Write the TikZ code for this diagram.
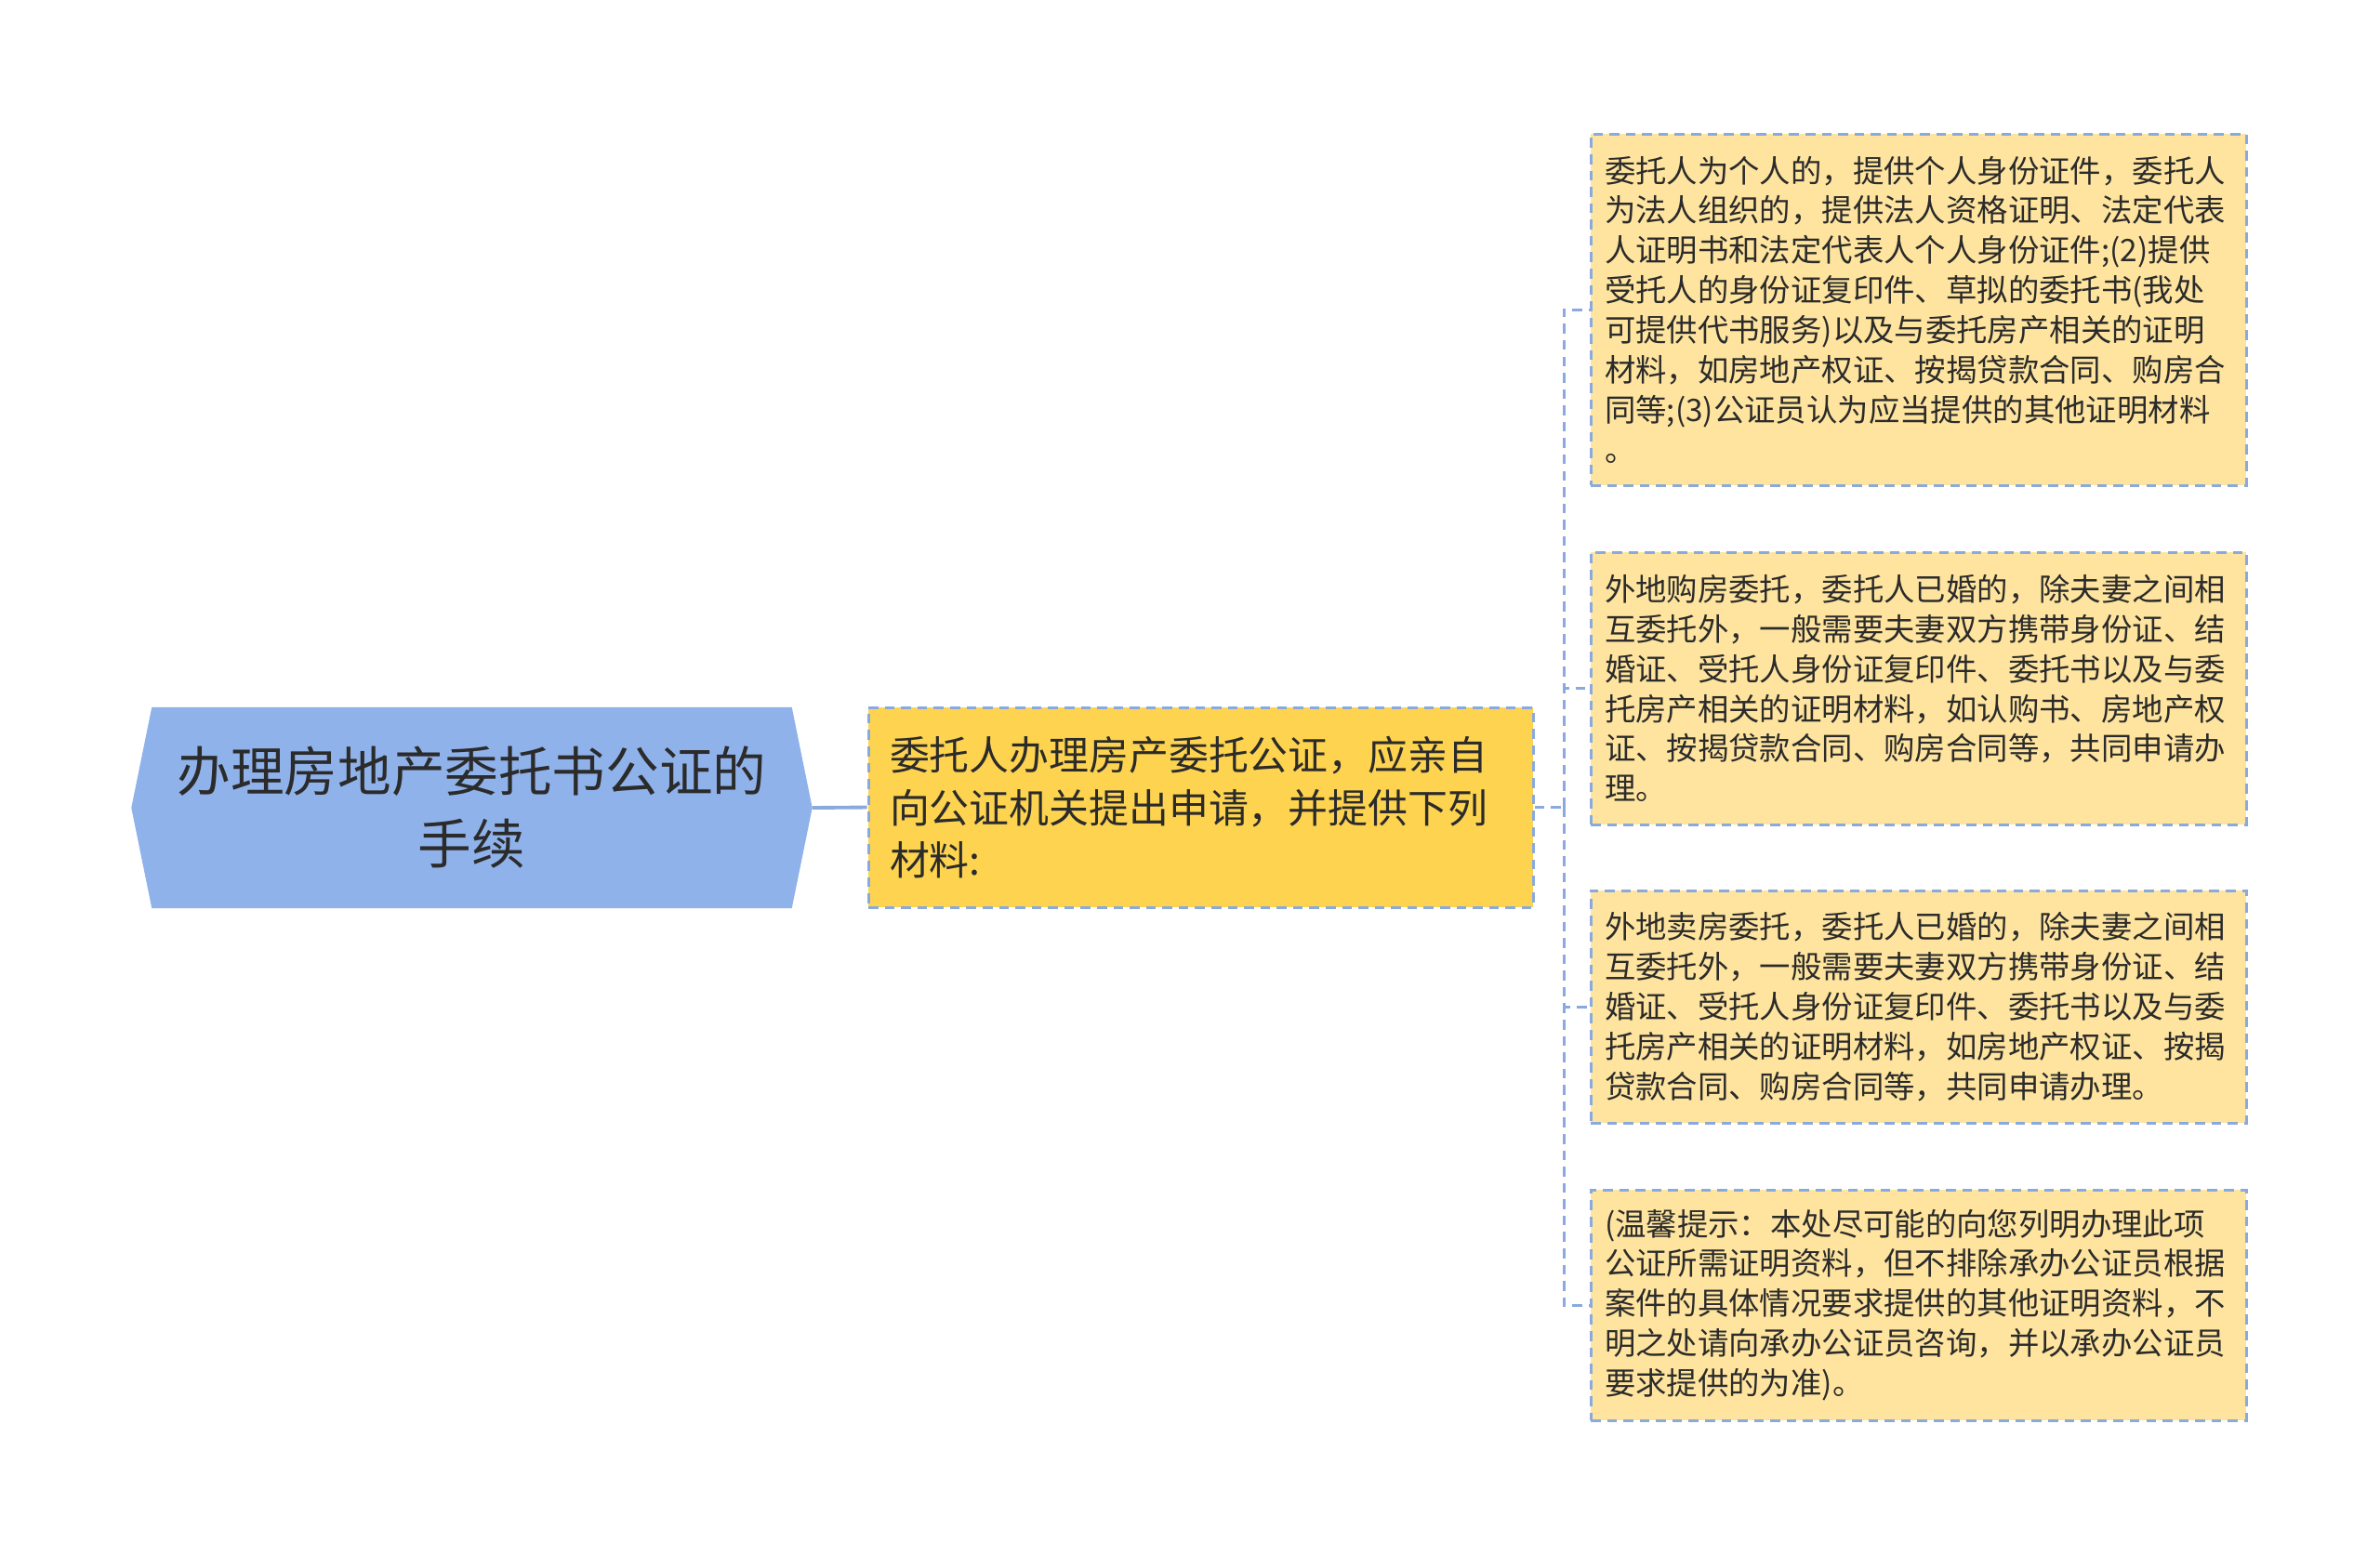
\documentclass[tikz,border=0pt]{standalone}
\usepackage{fontspec}
\setmainfont{Noto Sans CJK SC}
\usetikzlibrary{shapes.symbols}

\definecolor{rootblue}{HTML}{8FB2EA}
\definecolor{midgold}{HTML}{FDD34F}
\definecolor{leafyellow}{HTML}{FEE49E}
\definecolor{edgeblue}{HTML}{8AAADD}
\definecolor{inkgray}{HTML}{2B2B2B}

\begin{document}
\begin{tikzpicture}[
  rootbox/.style={shape=signal, signal to=west and east, signal pointer angle=157,
    fill=rootblue, draw=rootblue, text=inkgray, align=center,
    minimum width=7.31cm, minimum height=2.15cm, inner sep=0pt,
    font=\fontsize{16.4pt}{22.2pt}\selectfont},
  midbox/.style={rectangle, fill=midgold, draw=edgeblue, line width=0.85pt,
    dash pattern=on 3pt off 2pt, text=inkgray, align=left,
    text width=6.69cm, inner xsep=0.23cm, minimum height=2.15cm,
    font=\fontsize{12.2pt}{16.2pt}\selectfont},
  leafbox/.style={rectangle, fill=leafyellow, draw=edgeblue, line width=0.85pt,
    dash pattern=on 3pt off 2pt, text=inkgray, align=left,
    text width=6.75cm, inner xsep=0.15cm,
    font=\fontsize{9.5pt}{12.2pt}\selectfont},
  solidlink/.style={draw=edgeblue, line width=1.1pt},
  dashlink/.style={draw=edgeblue, line width=0.85pt, dash pattern=on 3pt off 2pt}
]
  \useasboundingbox (0,0) rectangle (25.6,-16.73);

  % main topic and its one child
  \node[rootbox] (root) at (5.075,-8.69) {办理房地产委托书公证的\\手续};
  \node[midbox] (mid) at (12.915,-8.685) {委托人办理房产委托公证，应亲自\\向公证机关提出申请，并提供下列\\材料:};

  % the four detail boxes
  \node[leafbox, minimum height=3.78cm] (b1) at (20.635,-3.33) {委托人为个人的，提供个人身份证件，委托人\\为法人组织的，提供法人资格证明、法定代表\\人证明书和法定代表人个人身份证件;(2)提供\\受托人的身份证复印件、草拟的委托书(我处\\可提供代书服务)以及与委托房产相关的证明\\材料，如房地产权证、按揭贷款合同、购房合\\同等;(3)公证员认为应当提供的其他证明材料\\。};
  \node[leafbox, minimum height=2.93cm] (b2) at (20.635,-7.405) {外地购房委托，委托人已婚的，除夫妻之间相\\互委托外，一般需要夫妻双方携带身份证、结\\婚证、受托人身份证复印件、委托书以及与委\\托房产相关的证明材料，如认购书、房地产权\\证、按揭贷款合同、购房合同等，共同申请办\\理。};
  \node[leafbox, minimum height=2.50cm] (b3) at (20.635,-10.83) {外地卖房委托，委托人已婚的，除夫妻之间相\\互委托外，一般需要夫妻双方携带身份证、结\\婚证、受托人身份证复印件、委托书以及与委\\托房产相关的证明材料，如房地产权证、按揭\\贷款合同、购房合同等，共同申请办理。};
  \node[leafbox, minimum height=2.48cm] (b4) at (20.635,-14.04) {(温馨提示：本处尽可能的向您列明办理此项\\公证所需证明资料，但不排除承办公证员根据\\案件的具体情况要求提供的其他证明资料，不\\明之处请向承办公证员咨询，并以承办公证员\\要求提供的为准)。};

  \coordinate (fork) at (16.82,-8.685);

  \draw[solidlink] (root.east) -- (mid.west);
  \draw[dashlink] (mid.east) -- (fork);
  \foreach \leaf in {b1,b2,b3,b4} {   %bracket branch to each box
    \draw[dashlink] (fork) |- (\leaf.west);
  }
\end{tikzpicture}
\end{document}
